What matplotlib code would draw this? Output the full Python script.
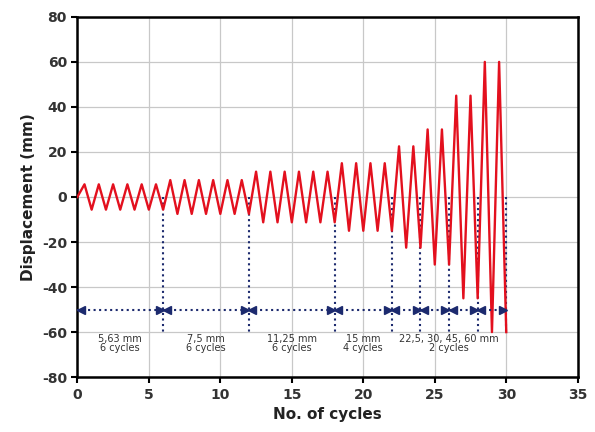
import numpy as np
import matplotlib
matplotlib.use('Agg')
from matplotlib import pyplot as plt

plt.rcParams['axes.unicode_minus'] = False

# loading protocol: amplitude (mm) and number of cycles per step
amplitudes = [5.63, 7.5, 11.25, 15, 22.5, 30, 45, 60]
n_cycles = [6, 6, 6, 4, 2, 2, 2, 2]
step_labels = ['5,63 mm\n6 cycles', '7,5 mm\n6 cycles', '11,25 mm\n6 cycles',
               '15 mm\n4 cycles', '22,5, 30, 45, 60 mm\n2 cycles']
label_x = [3, 9, 15, 20, 26]
arrow_y = -50
label_y = -65

# build the triangular history from the protocol
xs, ys = [0], [0]
k = 0
for amp, n in zip(amplitudes, n_cycles):
    for i in range(n):
        xs += [k + 0.5, k + 1]
        ys += [amp, -amp]
        k += 1
bounds = np.concatenate([[0], np.cumsum(n_cycles)])

fig = plt.figure(figsize=(5.95, 4.32), dpi=100)
ax = fig.add_axes([0.13, 0.127, 0.841, 0.834])

ax.grid(True, color='#c8c8c8', linewidth=0.9)
ax.set_axisbelow(True)

navy = '#1c2a6e'
for b in bounds[1:]:
    ax.plot([b, b], [0, -60], color=navy, linestyle=':', linewidth=1.5, zorder=2)

ax.plot(xs, ys, color='#e3101e', linewidth=1.7, zorder=3)

for a, b in zip(bounds[:-1], bounds[1:]):
    ax.plot([a, b], [arrow_y, arrow_y], color=navy, linestyle=':', linewidth=1.5, zorder=4)
    ax.plot([a + 0.25], [arrow_y], marker='<', color=navy, markersize=6, zorder=4)
    ax.plot([b - 0.25], [arrow_y], marker='>', color=navy, markersize=6, zorder=4)

for lx, txt in zip(label_x, step_labels):
    ax.text(lx, label_y, txt, ha='center', va='center', fontsize=7,
            color='#333333', linespacing=0.9)

ax.set_xlim(0, 35)
ax.set_ylim(-80, 80)
ax.set_xticks(range(0, 36, 5))
ax.set_yticks(range(-80, 81, 20))
for s in ax.spines.values():
    s.set_linewidth(1.8)
ax.tick_params(direction='out', length=4, width=1.5, labelsize=10,
               labelcolor='#333333')
for lab in ax.get_xticklabels() + ax.get_yticklabels():
    lab.set_fontweight('bold')

ax.set_xlabel('No. of cycles', fontsize=11, fontweight='bold', color='#222222')
ax.set_ylabel('Displacement (mm)', fontsize=11, fontweight='bold', color='#222222')

fig.savefig('out.png', dpi=100)
